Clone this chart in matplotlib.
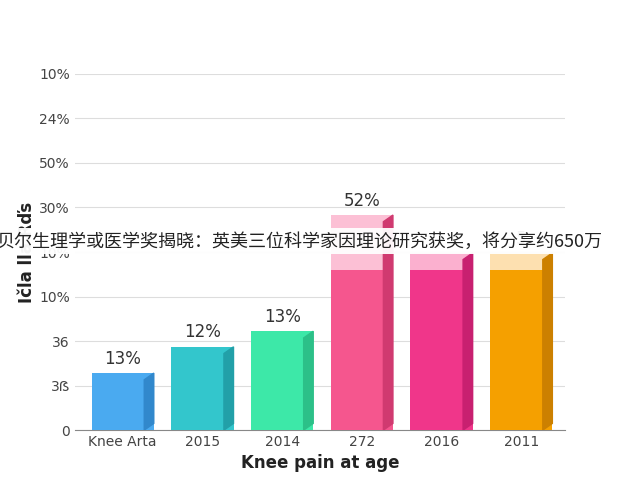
import matplotlib
matplotlib.use("Agg")
import matplotlib.pyplot as plt
from matplotlib.patches import Polygon

plt.rcParams['font.family'] = ['DejaVu Sans', 'Noto Sans CJK SC']

categories = ["Knee Arta", "2015", "2014", "272", "2016", "2011"]
values = [1.28, 1.87, 2.22, 4.83, 3.98, 3.98]
lower_values = [1.28, 1.87, 2.22, 3.6, 3.6, 3.6]
value_labels = ["13%", "12%", "13%", "52%", "", "5"]
ytick_labels = ["0", "3ẞ", "36", "10%", "10%", "30%", "50%", "24%", "10%"]
colors = ["#4aaaf0", "#33c6cc", "#3de8a8", "#f5568e", "#f0368a", "#f5a000"]
top_colors = ["#4aaaf0", "#33c6cc", "#3de8a8", "#fcc0d5", "#fbb0cf", "#fde0b0"]
side_colors = ["#3188cc", "#22a0a8", "#2cc088", "#d03a70", "#c82070", "#cc8000"]
banner = "贝尔生理学或医学奖揭晓：英美三位科学家因理论研究获奖，将分享约650万"

fig = plt.figure(figsize=(6.4, 4.8), dpi=100)
ax = fig.add_axes([0.117, 0.104, 0.766, 0.742])
x = list(range(len(categories)))
w = 0.78
ax.bar(x, values, width=w, color=top_colors, zorder=2)
ax.bar(x, lower_values, width=w, color=colors, zorder=3)
for i, v in enumerate(values):
    xr = i + w / 2
    ax.add_patch(Polygon([(xr - 0.12, 0), (xr, 0.15), (xr, v), (xr - 0.12, v - 0.15)],
                         closed=True, color=side_colors[i], zorder=4))
    if value_labels[i]:
        ax.text(i, v + 0.12, value_labels[i], ha="center", va="bottom", fontsize=12, color="#333333", zorder=5)
ax.set_ylim(0, 8)
ax.set_xlim(-0.6, 5.55)
ax.set_yticks(range(len(ytick_labels)))
ax.set_yticklabels(ytick_labels, fontsize=10, color="#444444")
ax.set_xticks(x)
ax.set_xticklabels(categories, fontsize=10, color="#444444")
ax.tick_params(length=0)
ax.grid(axis="y", color="#dddddd", zorder=0)
for s in ["top", "right", "left"]:
    ax.spines[s].set_visible(False)
ax.spines["bottom"].set_color("#888888")
ax.set_xlabel("Knee pain at age", fontsize=12, fontweight="bold", color="#222222", labelpad=4)
ax.set_ylabel("Ičla lla Rďs", fontsize=12, fontweight="bold", color="#222222", labelpad=2)

fig.patches.append(plt.Rectangle((0, 0.47), 1, 0.055, transform=fig.transFigure,
                                 facecolor="white", alpha=0.95, zorder=10))
fig.text(-0.005, 0.497, banner, fontsize=13, color="#222222", va="center", ha="left",
         family=['Noto Sans CJK SC', 'DejaVu Sans'], zorder=11)
fig.savefig("out.png", dpi=100)
